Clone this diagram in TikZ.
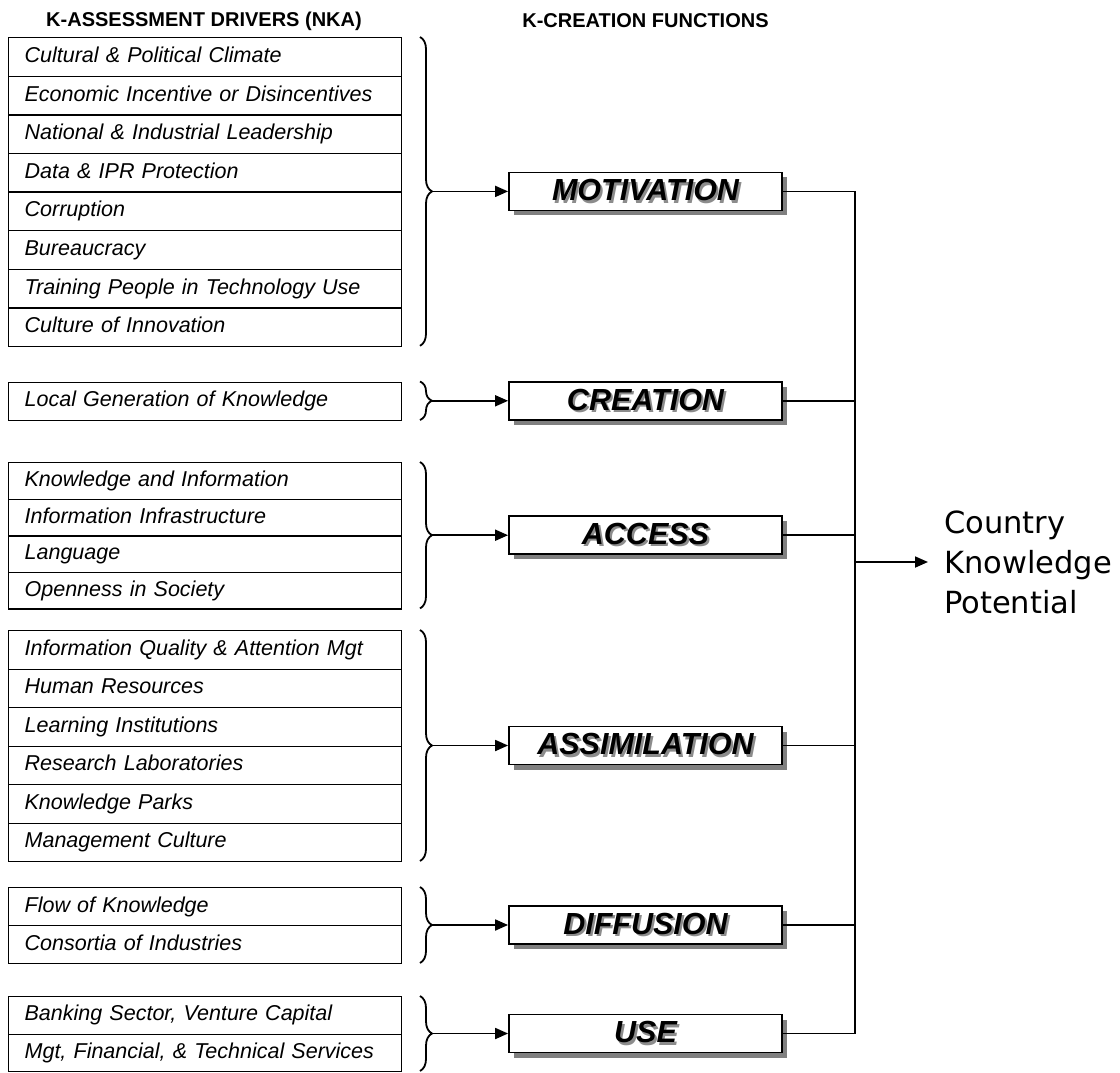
\documentclass[tikz,border=0pt]{standalone}
\usepackage{fontspec}
\setmainfont{Liberation Sans}
\newfontfamily\dvs{DejaVu Sans}
\usetikzlibrary{arrows.meta,decorations.pathreplacing,shadows}
\newcommand\fshad[1]{\makebox[0pt][l]{\hspace{2.2pt}\raisebox{-2.2pt}{\textcolor{black!45}{#1}}}#1}
\tikzset{
  drv/.style={draw, line width=1.3pt, anchor=north west, minimum width=393pt,
    text width=361pt, inner xsep=16pt, inner ysep=0pt, align=left,
    font=\fontsize{21.5}{25}\itshape, text height=15.5pt, text depth=4.5pt},
  fbox/.style={draw, line width=1.8pt, fill=white, minimum width=273pt, minimum height=38pt,
    inner sep=0pt, font=\fontsize{30.5}{34}\bfseries\itshape,
    drop shadow={shadow xshift=5pt, shadow yshift=-5pt, fill=black!50, opacity=1}},
  brc/.style={decorate, decoration={brace, amplitude=12pt}, line width=1.8pt},
  conn/.style={line width=1.8pt},
  arr/.style={line width=1.8pt, -{Triangle[length=13pt,width=11pt]}},
  hdr/.style={font=\fontsize{20}{24}\bfseries, inner sep=0pt}
}
\begin{document}
\begin{tikzpicture}[x=1pt,y=-1pt]
\useasboundingbox (0,0) rectangle (1120,1072);
\node[hdr] (h1) at (204,21) {K-ASSESSMENT DRIVERS (NKA)};
\node[hdr] (h2) at (645.5,21) {K-CREATION FUNCTIONS};
% Motivation group
\foreach \t [count=\i from 0] in {Cultural \& Political Climate, Economic Incentive or Disincentives, National \& Industrial Leadership, Data \& IPR Protection, Corruption, Bureaucracy, Training People in Technology Use, Culture of Innovation}
  \node[drv, minimum height=38.6pt] (m\i) at (8,{37+\i*38.6}) {\t};
% Creation
\node[drv, minimum height=38.5pt] (c0) at (8,381.5) {Local Generation of Knowledge};
% Access
\foreach \t [count=\i from 0] in {Knowledge and Information, Information Infrastructure, Language, Openness in Society}
  \node[drv, minimum height=36.6pt] (a\i) at (8,{462+\i*36.6}) {\t};
% Assimilation
\foreach \t [count=\i from 0] in {Information Quality \& Attention Mgt, Human Resources, Learning Institutions, Research Laboratories, Knowledge Parks, Management Culture}
  \node[drv, minimum height=38.5pt] (s\i) at (8,{630+\i*38.5}) {\t};
% Diffusion
\foreach \t [count=\i from 0] in {Flow of Knowledge, Consortia of Industries}
  \node[drv, minimum height=38pt] (d\i) at (8,{887+\i*38}) {\t};
% Use
\foreach \t [count=\i from 0] in {{Banking Sector, Venture Capital}, {Mgt, Financial, \& Technical Services}}
  \node[drv, minimum height=37.5pt] (u\i) at (8,{996+\i*37.5}) {\t};

% Function boxes
\node[fbox] (mot) at (645.5,191.4) {\fshad{MOTIVATION}};
\node[fbox] (cre) at (645.5,400.8) {\fshad{CREATION}};
\node[fbox] (acc) at (645.5,535.2) {\fshad{ACCESS}};
\node[fbox] (asm) at (645.5,745.5) {\fshad{ASSIMILATION}};
\node[fbox] (dif) at (645.5,925) {\fshad{DIFFUSION}};
\node[fbox] (use) at (645.5,1033.5) {\fshad{USE}};

% Braces
\draw[brc] (420,37) -- (420,345.8);
\draw[brc] (420,381.5) -- (420,420);
\draw[brc] (420,462) -- (420,608.4);
\draw[brc] (420,630) -- (420,861);
\draw[brc] (420,887) -- (420,963);
\draw[brc] (420,996) -- (420,1071);

\coordinate (tm) at (432,191.4);
\coordinate (tc) at (432,400.8);
\coordinate (ta) at (432,535.2);
\coordinate (ts) at (432,745.5);
\coordinate (td) at (432,925);
\coordinate (tu) at (432,1033.5);
\draw[arr] (tm) -- (mot.west);
\draw[arr] (tc) -- (cre.west);
\draw[arr] (ta) -- (acc.west);
\draw[arr] (ts) -- (asm.west);
\draw[arr] (td) -- (dif.west);
\draw[arr] (tu) -- (use.west);

% Bus
\coordinate (bb) at (855,1033.5);
\draw[conn] (mot.east) -| (bb) -- (use.east);
\draw[conn] (cre.east) -- (cre.east -| bb);
\draw[conn] (acc.east) -- (acc.east -| bb);
\draw[conn] (asm.east) -- (asm.east -| bb);
\draw[conn] (dif.east) -- (dif.east -| bb);

\node[anchor=west, inner xsep=16pt, inner ysep=0pt, align=left, font=\dvs\fontsize{30.5}{40}\selectfont] (ckp) at (928,562) {Country\\Knowledge\\Potential};
\coordinate (ob) at (855,562);
\draw[arr] (ob) -- (ckp.west);
\end{tikzpicture}
\end{document}
